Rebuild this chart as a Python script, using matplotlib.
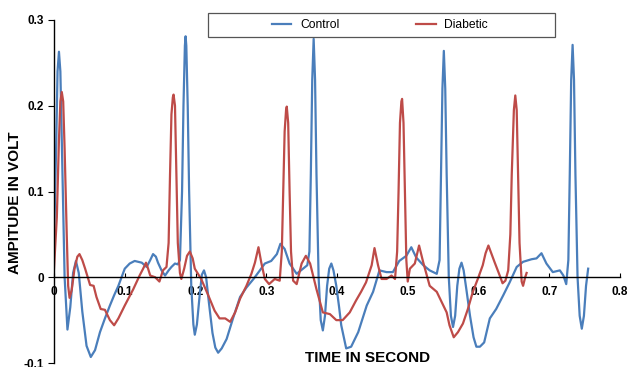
import matplotlib
matplotlib.use("Agg")
import matplotlib.pyplot as plt
from matplotlib.patches import Rectangle

plt.rcParams['font.family'] = ['Liberation Sans', 'DejaVu Sans']

# control signal (time in s, amplitude in V)
ctrl_t = [0.000, 0.003, 0.005, 0.007, 0.009, 0.012, 0.015, 0.019, 0.023, 0.027,
          0.031, 0.035, 0.040, 0.046, 0.052, 0.058, 0.065, 0.072, 0.079, 0.085,
          0.091, 0.100, 0.107, 0.114, 0.124, 0.131, 0.136, 0.140, 0.144, 0.147,
          0.152, 0.157, 0.162, 0.166, 0.171, 0.175, 0.178, 0.181, 0.183, 0.185,
          0.186, 0.187, 0.189, 0.191, 0.194, 0.197, 0.199, 0.202, 0.206, 0.209,
          0.212, 0.215, 0.219, 0.224, 0.228, 0.232, 0.237, 0.244, 0.253, 0.263,
          0.272, 0.282, 0.291, 0.298, 0.307, 0.315, 0.320, 0.326, 0.333, 0.343,
          0.352, 0.358, 0.361, 0.363, 0.365, 0.367, 0.369, 0.371, 0.374, 0.377,
          0.380, 0.383, 0.386, 0.389, 0.392, 0.395, 0.399, 0.403, 0.406, 0.413,
          0.420, 0.430, 0.442, 0.451, 0.460, 0.470, 0.479, 0.488, 0.498, 0.505,
          0.512, 0.522, 0.531, 0.541, 0.545, 0.547, 0.549, 0.551, 0.553, 0.555,
          0.558, 0.561, 0.564, 0.567, 0.570, 0.573, 0.576, 0.579, 0.583, 0.588,
          0.593, 0.597, 0.602, 0.608, 0.612, 0.616, 0.625, 0.635, 0.644, 0.654,
          0.663, 0.675, 0.682, 0.689, 0.696, 0.705, 0.715, 0.720, 0.724, 0.727,
          0.729, 0.731, 0.733, 0.735, 0.737, 0.740, 0.743, 0.746, 0.749, 0.752,
          0.755]
ctrl_v = [0.040, 0.150, 0.240, 0.263, 0.240, 0.120, 0.000, -0.061, -0.035, 0.005,
          0.019, 0.005, -0.040, -0.080, -0.093, -0.085, -0.064, -0.048, -0.033, -0.021,
          -0.010, 0.010, 0.016, 0.019, 0.017, 0.012, 0.020, 0.027, 0.024, 0.017,
          0.008, 0.002, 0.008, 0.012, 0.016, 0.015, 0.020, 0.100, 0.200, 0.270,
          0.281, 0.270, 0.200, 0.100, -0.010, -0.055, -0.067, -0.055, -0.020, 0.003,
          0.008, 0.000, -0.030, -0.065, -0.082, -0.088, -0.083, -0.072, -0.048, -0.023,
          -0.012, -0.002, 0.008, 0.016, 0.019, 0.027, 0.039, 0.033, 0.016, 0.004,
          0.010, 0.014, 0.030, 0.120, 0.230, 0.278, 0.230, 0.120, 0.000, -0.050,
          -0.062, -0.045, -0.010, 0.010, 0.016, 0.008, -0.010, -0.035, -0.056, -0.083,
          -0.081, -0.064, -0.033, -0.017, 0.008, 0.006, 0.006, 0.019, 0.025, 0.035,
          0.023, 0.014, 0.008, 0.004, 0.020, 0.120, 0.220, 0.264, 0.220, 0.120,
          0.000, -0.045, -0.058, -0.045, -0.010, 0.010, 0.017, 0.008, -0.015, -0.045,
          -0.070, -0.081, -0.081, -0.076, -0.062, -0.048, -0.037, -0.021, -0.006, 0.012,
          0.018, 0.021, 0.022, 0.028, 0.016, 0.006, 0.008, 0.002, -0.008, 0.020,
          0.120, 0.230, 0.271, 0.230, 0.120, 0.000, -0.045, -0.060, -0.045, -0.010,
          0.010]

# diabetic signal
diab_t = [0.000, 0.004, 0.007, 0.009, 0.011, 0.013, 0.015, 0.018, 0.020, 0.022,
          0.025, 0.029, 0.033, 0.036, 0.040, 0.044, 0.051, 0.056, 0.060, 0.066,
          0.072, 0.079, 0.085, 0.091, 0.100, 0.112, 0.121, 0.126, 0.130, 0.133,
          0.136, 0.143, 0.149, 0.154, 0.159, 0.162, 0.164, 0.166, 0.168, 0.169,
          0.171, 0.173, 0.175, 0.178, 0.180, 0.184, 0.188, 0.192, 0.196, 0.199,
          0.208, 0.218, 0.227, 0.234, 0.242, 0.249, 0.256, 0.263, 0.272, 0.279,
          0.284, 0.289, 0.293, 0.298, 0.304, 0.312, 0.319, 0.322, 0.324, 0.326,
          0.328, 0.329, 0.331, 0.333, 0.335, 0.338, 0.343, 0.347, 0.350, 0.356,
          0.362, 0.371, 0.380, 0.390, 0.399, 0.408, 0.418, 0.427, 0.434, 0.441,
          0.449, 0.453, 0.458, 0.463, 0.470, 0.477, 0.482, 0.485, 0.487, 0.489,
          0.491, 0.492, 0.494, 0.496, 0.498, 0.500, 0.503, 0.510, 0.516, 0.522,
          0.531, 0.541, 0.548, 0.555, 0.559, 0.565, 0.571, 0.578, 0.585, 0.592,
          0.599, 0.606, 0.610, 0.614, 0.618, 0.623, 0.630, 0.634, 0.638, 0.642,
          0.645, 0.647, 0.650, 0.652, 0.654, 0.656, 0.658, 0.661, 0.663, 0.666,
          0.668]
diab_v = [0.010, 0.070, 0.160, 0.205, 0.216, 0.205, 0.150, 0.050, -0.010, -0.024,
          -0.015, 0.010, 0.024, 0.027, 0.020, 0.010, -0.009, -0.010, -0.023, -0.037,
          -0.038, -0.050, -0.056, -0.048, -0.033, -0.014, 0.002, 0.010, 0.017, 0.010,
          0.002, 0.000, -0.005, 0.008, 0.012, 0.040, 0.120, 0.190, 0.210, 0.213,
          0.200, 0.120, 0.040, 0.005, -0.002, 0.010, 0.025, 0.030, 0.022, 0.010,
          -0.002, -0.021, -0.039, -0.048, -0.048, -0.052, -0.041, -0.025, -0.010, 0.004,
          0.017, 0.035, 0.017, -0.002, -0.008, -0.002, -0.004, 0.030, 0.100, 0.170,
          0.195, 0.199, 0.180, 0.100, 0.030, -0.004, -0.008, 0.006, 0.016, 0.025,
          0.016, -0.014, -0.041, -0.043, -0.050, -0.050, -0.041, -0.027, -0.017, -0.006,
          0.014, 0.034, 0.014, -0.002, -0.002, 0.002, -0.002, 0.030, 0.100, 0.180,
          0.205, 0.208, 0.180, 0.100, 0.020, -0.005, 0.010, 0.016, 0.037, 0.017,
          -0.010, -0.017, -0.029, -0.041, -0.056, -0.070, -0.064, -0.054, -0.037, -0.017,
          -0.002, 0.014, 0.028, 0.037, 0.028, 0.017, 0.002, -0.007, -0.004, 0.008,
          0.050, 0.120, 0.195, 0.212, 0.195, 0.120, 0.040, -0.005, -0.010, 0.000,
          0.005]

xticks = [0, 0.1, 0.2, 0.3, 0.4, 0.5, 0.6, 0.7, 0.8]
xticklabels = ['0', '0.1', '0.2', '0.3', '0.4', '0.5', '0.6', '0.7', '0.8']
yticks = [-0.1, 0, 0.1, 0.2, 0.3]
yticklabels = ['-0.1', '0', '0.1', '0.2', '0.3']

fig = plt.figure(figsize=(6.3, 3.67), dpi=100)
ax = fig.add_axes([54 / 630, 4 / 367, 566 / 630, 343 / 367])

l1, = ax.plot(ctrl_t, ctrl_v, color='#4a7ebb', lw=1.6, label='Control')
l2, = ax.plot(diab_t, diab_v, color='#be4b48', lw=1.6, label='Diabetic')

ax.set_xlim(0, 0.8)
ax.set_ylim(-0.1, 0.3)
ax.spines['top'].set_visible(False)
ax.spines['right'].set_visible(False)
ax.spines['bottom'].set_position(('data', 0))
ax.spines['left'].set_linewidth(1.0)
ax.spines['bottom'].set_linewidth(1.0)

ax.set_xticks(xticks)
ax.set_xticklabels(xticklabels, fontsize=8.5, fontweight='bold')
ax.set_yticks(yticks)
ax.set_yticklabels(yticklabels, fontsize=8.5, fontweight='bold')
ax.tick_params(axis='x', direction='in', length=3, pad=6)
ax.tick_params(axis='y', direction='out', length=4, pad=3)

fig.text(15 / 630, 1 - 203 / 367, 'AMPITUDE IN VOLT', rotation=90,
         fontsize=11, fontweight='bold', ha='center', va='center')
fig.text(368 / 630, 1 - 358 / 367, 'TIME IN SECOND',
         fontsize=11, fontweight='bold', ha='center', va='center')

# legend box spans wider than the entries, so draw the frame separately
fig.patches.append(Rectangle((208 / 630, 1 - 37 / 367), 347 / 630, 24 / 367,
                             transform=fig.transFigure, fill=True, facecolor='white',
                             edgecolor='#555555', linewidth=0.9, zorder=5))
leg = fig.legend(handles=[l1, l2], loc='center',
                 bbox_to_anchor=(380 / 630, 1 - 25 / 367),
                 ncol=2, fontsize=8.7, frameon=False,
                 columnspacing=6.4, handlelength=1.6, handletextpad=0.7)
leg.set_zorder(6)

fig.savefig('out.png', dpi=100)
